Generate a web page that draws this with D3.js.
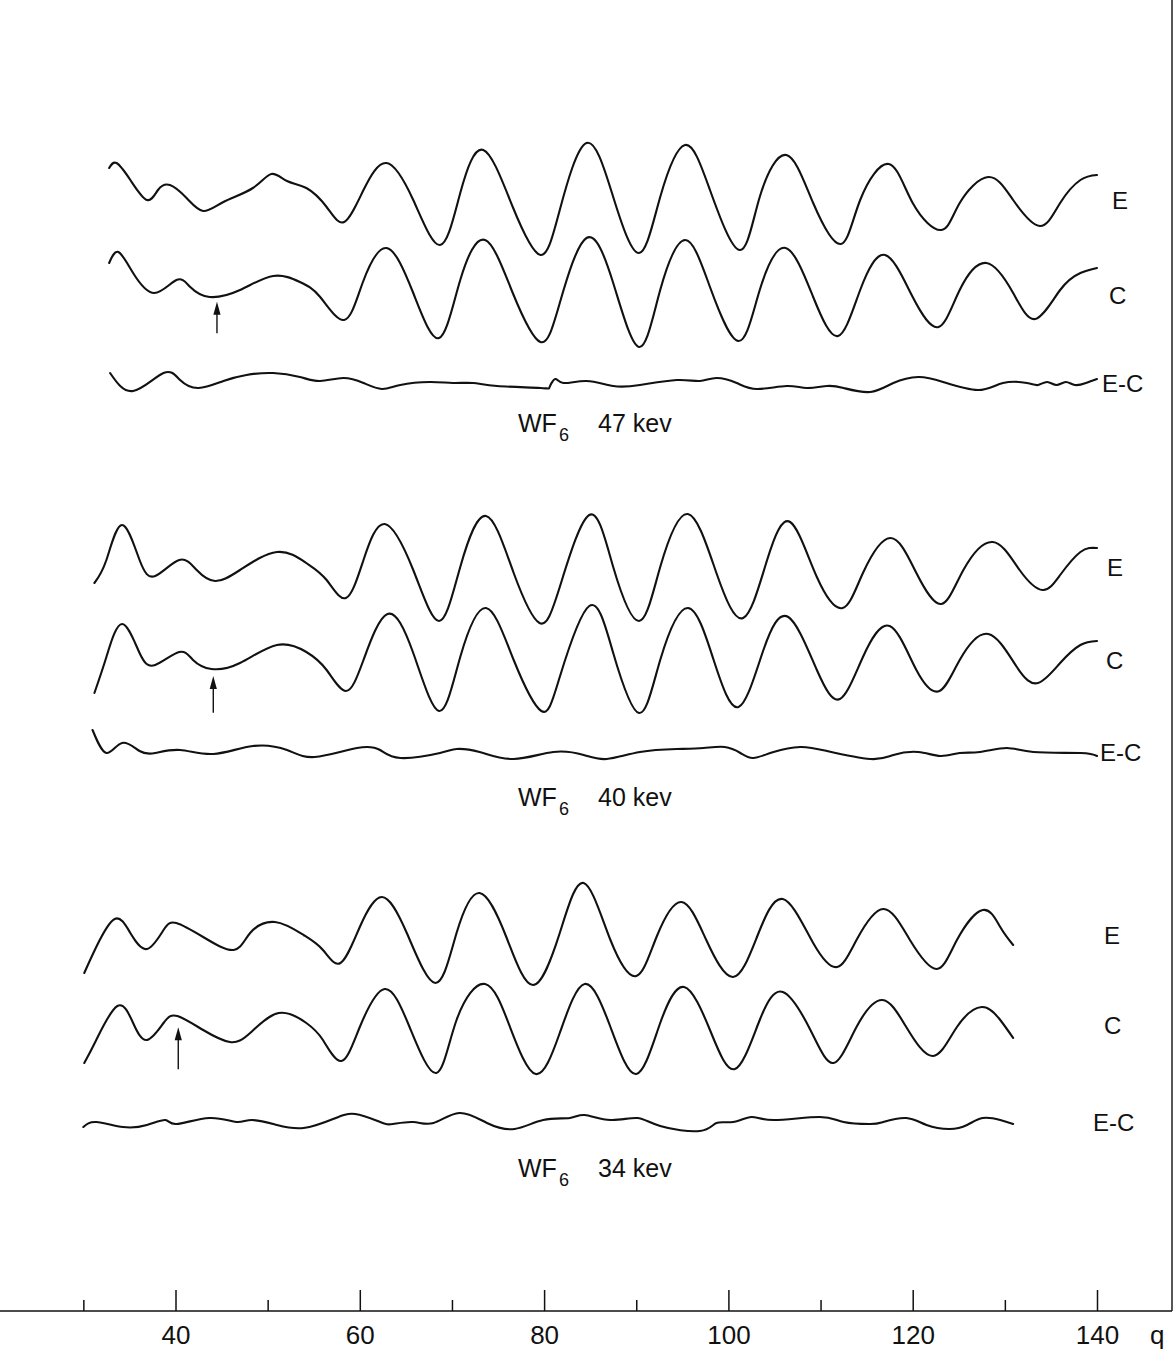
<!DOCTYPE html>
<html><head><meta charset="utf-8">
<script src="https://cdn.jsdelivr.net/npm/d3@7"></script>
<style>
body{margin:0;background:#fff}
text{font-family:"Liberation Sans",Arial,sans-serif;fill:#111}
</style></head>
<body><svg id="c" width="1176" height="1360"></svg>
<script>
// ---- data: q (x) and relative intensity values (1 unit = 1/10 of trace scale) ----
const qMajorTicks = [40,60,80,100,120,140];
const qMinorTicks = [30,50,70,90,110,130];
const energies = ["47","40","34"];
const traceNames = ["E","C","E-C"];

const E47 = [[32.8,3.2],[33.6,3.7],[35.1,2.0],[36.9,0.0],[38.1,1.0],[39.4,1.5],[41.2,0.2],[43.0,-1.1],[45.2,-0.2],[48.4,1.2],[50.4,2.6],[52.1,1.9],[54.2,1.2],[56.4,-0.7],[58.3,-2.2],[60.4,1.0],[62.9,3.7],[65.8,0.0],[68.7,-4.5],[70.9,0.7],[73.4,5.0],[76.6,-0.7],[79.6,-5.5],[81.7,-1.0],[84.6,5.7],[87.5,0.3],[90.3,-5.3],[92.6,0.3],[95.3,5.5],[98.0,1.0],[101.2,-5.0],[103.4,0.3],[106.3,4.5],[109.2,-0.3],[112.2,-4.4],[114.3,0.0],[117.4,3.6],[120.0,-0.3],[123.1,-3.0],[125.1,-0.3],[128.2,2.3],[130.9,0],[133.8,-2.6],[136.0,-0.3],[138.2,2.0],[140.0,2.5]];
const C47 = [[32.8,3.2],[33.8,4.3],[35.4,2.2],[37.7,0.2],[40.1,1.5],[41.6,0.8],[43.7,-0.2],[47.0,0.5],[50.6,1.9],[53.5,1.3],[55.7,-0.2],[58.3,-2.5],[60.3,1.2],[62.9,4.7],[65.8,0.2],[68.6,-4.3],[70.9,1.5],[73.6,5.5],[76.6,0.2],[79.6,-4.7],[81.7,-0.8],[84.6,5.7],[87.5,1.2],[90.3,-5.2],[92.6,0.5],[95.3,5.5],[98.0,0.8],[101.1,-4.6],[103.4,0.5],[106.2,4.7],[109.2,-0.2],[111.9,-4.1],[114.3,0.5],[117.0,4.0],[120.0,-0.2],[122.8,-3.2],[125.1,0.5],[128.0,3.2],[130.9,0.2],[133.3,-2.4],[136.0,0.5],[138.2,2.2],[140.0,2.7]];
const D47 = [[32.9,1.0],[35.4,-0.8],[38.7,1.0],[40.5,0.3],[42.5,-0.5],[45.2,0.2],[47.7,0.8],[50.6,1.0],[53.5,0.6],[55.7,0.2],[58.2,0.5],[60.4,0.0],[62.4,-0.6],[64.4,-0.2],[67.6,0.1],[70.1,0.0],[72.3,0.0],[74.9,-0.3],[79.6,-0.5],[80.6,-0.4],[81.2,0.4],[82.1,0.0],[84.6,0.2],[87.5,-0.3],[90.4,-0.2],[94.4,0.3],[96.9,0.2],[98.7,0.5],[100.9,0.0],[103.1,-0.6],[106.3,-0.3],[108.5,-0.5],[110.7,-0.3],[112.5,-0.5],[115.4,-0.9],[117.9,0.0],[120.6,0.6],[123.3,0.1],[127.1,-0.7],[129.8,0.0],[132.4,0.0],[133.6,-0.2],[134.6,0.1],[135.6,-0.2],[136.6,0.1],[137.6,-0.2],[138.8,0.0],[140.0,0.4]];

const E40 = [[31.2,-1.6],[32.5,0.7],[34.2,4.2],[36.1,0.7],[37.8,-0.9],[40.4,0.7],[42.3,-0.3],[44.3,-1.4],[47.0,-0.3],[51.0,1.5],[54.2,0.4],[56.4,-1.3],[58.5,-3.1],[60.4,0.7],[62.7,4.3],[65.8,-0.3],[68.6,-5.4],[70.9,0.0],[73.7,5.1],[76.7,-0.6],[79.5,-5.6],[81.7,-2.0],[84.9,5.2],[87.5,0.0],[90.3,-5.4],[92.6,0.0],[95.6,5.3],[98.7,-0.6],[101.6,-5.1],[104.2,0.7],[106.7,4.5],[109.6,-1.0],[112.4,-4.1],[114.6,-0.6],[117.6,2.9],[120.4,-0.6],[123.1,-3.7],[125.5,-0.3],[128.7,2.5],[131.6,-0.3],[134.1,-2.3],[136.0,-0.8],[138.2,1.5],[140.0,1.9]];
const C40 = [[31.2,-3.3],[32.5,0.3],[34.2,3.6],[36.1,0.7],[37.8,-0.5],[40.4,0.8],[41.9,0.0],[43.9,-0.9],[47.0,-0.3],[51.0,1.5],[54.2,0.8],[56.4,-1.0],[58.5,-3.1],[60.4,0.0],[63.0,4.6],[65.8,0.7],[68.6,-5.1],[70.9,0.3],[73.7,5.2],[76.7,0.0],[79.7,-5.1],[81.7,-1.7],[84.9,5.4],[87.5,0.7],[90.3,-5.3],[92.6,0.0],[95.6,5.2],[98.4,0.0],[101.1,-4.7],[103.8,1.0],[106.5,4.3],[109.6,-1.0],[112.1,-3.9],[114.6,0.3],[117.5,3.4],[120.4,-1.0],[122.9,-3.1],[125.1,0.0],[128.2,2.6],[131.3,-0.7],[133.6,-2.3],[136.0,-0.3],[138.2,1.5],[140.0,1.9]];
const D40 = [[31.0,2.2],[32.5,-0.1],[34.2,0.9],[36.1,0.1],[37.8,-0.1],[40.5,0.2],[44.1,-0.2],[48.4,0.6],[52.1,0.2],[55.1,-0.5],[59.7,0.4],[62.2,0.2],[64.4,-0.6],[68.7,-0.1],[70.5,0.3],[73.0,0.0],[76.7,-0.7],[81.0,0.0],[84.3,-0.3],[86.8,-0.7],[90.4,0.0],[94.4,0.3],[97.3,0.4],[99.6,0.5],[101.3,-0.1],[102.7,-0.6],[104.9,0.0],[107.8,0.5],[110.7,0.1],[115.4,-0.7],[117.9,-0.3],[120.6,0.0],[123.0,-0.4],[125.1,-0.1],[127.3,0.0],[130.2,0.4],[133.1,0.0],[138.2,-0.1],[140.0,-0.4]];

const E34 = [[30.1,-3.8],[31.4,-1.2],[33.4,1.6],[35.1,0.2],[36.9,-1.4],[38.7,0.5],[40.1,1.2],[43.0,-0.2],[46.3,-1.5],[48.1,0.2],[50.8,1.3],[53.9,0.0],[56.0,-1.5],[57.9,-2.8],[60.0,0.8],[62.4,3.8],[65.1,0.2],[68.2,-4.8],[70.5,0.2],[73.0,4.2],[75.9,-0.2],[78.8,-5.0],[81.7,0.2],[84.3,5.2],[87.2,-0.5],[90.0,-4.1],[92.2,-0.2],[94.9,3.3],[97.6,-0.5],[100.5,-4.2],[103.1,-0.2],[105.9,3.6],[109.2,-0.8],[111.8,-3.2],[113.9,-0.5],[116.8,2.6],[119.7,-0.5],[122.6,-3.4],[124.8,-0.5],[127.6,2.5],[129.5,0.8],[130.9,-1.0]];
const C34 = [[30.1,-3.8],[31.4,-1.5],[33.7,1.9],[35.4,0.2],[36.9,-1.5],[38.7,0.2],[40.2,0.9],[43.0,-0.5],[45.9,-1.7],[48.1,-0.8],[51.2,1.2],[54.2,0.2],[56.0,-1.5],[58.0,-3.6],[60.0,-0.2],[62.7,3.6],[65.4,-0.2],[68.3,-4.8],[70.5,0.5],[73.6,4.1],[76.3,-0.2],[79.1,-4.9],[81.7,-0.8],[84.4,4.1],[87.2,-0.2],[90.0,-4.9],[92.6,0.2],[95.2,3.8],[98.0,-0.5],[100.7,-4.4],[103.4,0.5],[105.9,3.3],[108.9,-0.5],[111.4,-3.8],[113.9,-0.2],[116.7,2.5],[119.3,-0.2],[122.2,-3.1],[124.8,-0.2],[127.5,1.8],[129.5,0.5],[130.9,-1.3]];
const D34 = [[30.0,-0.5],[31.4,0.0],[34.3,-0.5],[36.9,-0.3],[38.9,0.2],[40.1,-0.2],[43.7,0.4],[46.6,0.0],[48.3,0.2],[51.0,-0.3],[53.9,-0.6],[57.1,0.3],[59.5,0.8],[62.2,0.0],[63.6,-0.2],[65.8,0.0],[68.0,-0.1],[70.8,0.9],[73.8,-0.1],[76.8,-0.7],[79.9,0.2],[82.8,0.4],[84.4,0.7],[87.2,0.2],[90.1,0.4],[92.6,-0.4],[96.9,-0.9],[98.7,-0.1],[100.5,0.0],[102.5,0.5],[104.9,0.2],[109.9,0.5],[112.5,0.0],[115.4,-0.2],[116.8,0.0],[119.3,0.4],[121.5,-0.3],[124.0,-0.7],[125.9,-0.3],[127.6,0.4],[129.5,0.2],[130.9,-0.2]];

// arrows on the C traces: q position, tip value, tail value
const arrowQ = [44.5, 44.1, 40.3];
const arrowTip = [-0.67, -1.6, -0.23];
const arrowTail = [-3.83, -5.27, -4.43];

// ---- layout ----
const svg = d3.select("#c");
const x = d3.scaleLinear().domain([30,140]).range([83.35,1097]);
const traceSets = [[E47,C47,D47],[E40,C40,D40],[E34,C34,D34]];
const centers = [[200,295,383],[567,660,752],[935,1025,1122]];
const labelX = [[1112,1109,1102],[1107,1106,1100],[1104,1104,1093]];
const titleY = [432,806,1177];

traceSets.forEach((set,p)=>{
  set.forEach((data,i)=>{
    const c = centers[p][i];
    const y = d3.scaleLinear().domain([-1,1]).range([c+10,c-10]);
    const line = d3.line().x(d=>x(d[0])).y(d=>y(d[1])).curve(d3.curveNatural);
    svg.append("path").attr("d",line(data)).attr("fill","none")
      .attr("stroke","#111").attr("stroke-width",2.1).attr("stroke-linejoin","round").attr("stroke-linecap","round");
    svg.append("text").attr("x",labelX[p][i]).attr("y",c).attr("dy","0.36em")
      .attr("font-size",24).text(traceNames[i]);
    if(i===1){
      const ax = x(arrowQ[p]), ty = y(arrowTip[p]), tl = y(arrowTail[p]);
      svg.append("line").attr("x1",ax).attr("x2",ax).attr("y1",ty+10).attr("y2",tl)
        .attr("stroke","#111").attr("stroke-width",1.4);
      svg.append("path").attr("d",`M${ax},${ty} L${ax-3.6},${ty+13} L${ax+3.6},${ty+13} Z`).attr("fill","#111");
    }
  });
  const t = svg.append("text").attr("x",518).attr("y",titleY[p]).attr("font-size",25);
  t.append("tspan").text("WF");
  t.append("tspan").attr("font-size",18).attr("dy",9).attr("dx",2).text("6");
  svg.append("text").attr("x",598).attr("y",titleY[p]).attr("font-size",25)
    .text(energies[p]+" kev");
});

// ---- axis ----
const axisY = 1311;
svg.append("line").attr("x1",0).attr("x2",1172).attr("y1",axisY).attr("y2",axisY)
  .attr("stroke","#111").attr("stroke-width",1.6);
svg.append("line").attr("x1",1172).attr("x2",1172).attr("y1",0).attr("y2",axisY)
  .attr("stroke","#111").attr("stroke-width",1.4);

const gMaj = svg.append("g").attr("transform",`translate(0,${axisY})`)
  .call(d3.axisBottom(x).tickValues(qMajorTicks).tickSizeInner(-21).tickSizeOuter(0).tickPadding(15).tickFormat(d3.format("d")));
const gMin = svg.append("g").attr("transform",`translate(0,${axisY})`)
  .call(d3.axisBottom(x).tickValues(qMinorTicks).tickSizeInner(-11).tickSizeOuter(0).tickFormat(""));
[gMaj,gMin].forEach(g=>{
  g.select(".domain").remove();
  g.selectAll(".tick line").attr("stroke","#111").attr("stroke-width",1.5);
});
gMaj.selectAll(".tick text").attr("font-size",26).attr("fill","#111")
  .style("font-family","'Liberation Sans',Arial,sans-serif");
svg.append("text").attr("x",1150).attr("y",axisY+15).attr("dy","0.71em").attr("font-size",26).text("q");
</script></body></html>
